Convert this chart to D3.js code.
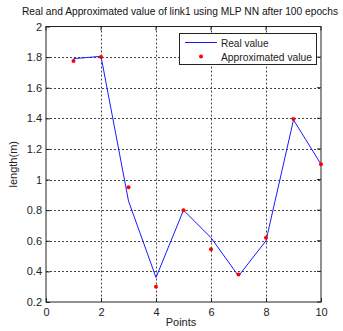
<!DOCTYPE html>
<html>
<head>
<meta charset="utf-8">
<script src="https://cdn.jsdelivr.net/npm/d3@7"></script>
<style>
  body { margin: 0; background: #fff; }
  svg { display: block; font-family: "Liberation Sans", Arial, sans-serif; }
</style>
</head>
<body>
<svg id="chart" width="343" height="331"></svg>
<script>
// Link length per sample point: measured vs. network output
const points = [1, 2, 3, 4, 5, 6, 7, 8, 9, 10];
const realValues = [1.79, 1.805, 0.86, 0.36, 0.80, 0.62, 0.37, 0.60, 1.39, 1.10];
const approxValues = [1.775, 1.80, 0.95, 0.30, 0.80, 0.545, 0.38, 0.62, 1.395, 1.10];
const xTicks = [0, 2, 4, 6, 8, 10];
const yTicks = [0.2, 0.4, 0.6, 0.8, 1, 1.2, 1.4, 1.6, 1.8, 2];

const svg = d3.select("#chart");
const m = { left: 46, right: 22, top: 26.5, bottom: 29 };
const W = 343, H = 331;
const x = d3.scaleLinear().domain([0, 10]).range([m.left, W - m.right]);
const y = d3.scaleLinear().domain([0.2, 2]).range([H - m.bottom, m.top]);

// grid
const grid = svg.append("g").attr("stroke", "#444").attr("stroke-width", 1)
  .attr("stroke-dasharray", "2,2");
xTicks.slice(1, -1).forEach(t => grid.append("line")
  .attr("x1", Math.round(x(t)) + 0.5).attr("x2", Math.round(x(t)) + 0.5)
  .attr("y1", y(2)).attr("y2", y(0.2)));
yTicks.slice(1, -1).forEach(t => grid.append("line")
  .attr("y1", Math.round(y(t)) + 0.5).attr("y2", Math.round(y(t)) + 0.5)
  .attr("x1", x(0)).attr("x2", x(10)));

// axes
const xAxis = d3.axisBottom(x).tickValues(xTicks).tickFormat(d3.format("d"))
  .tickSizeInner(-4).tickSizeOuter(0).tickPadding(6);
const yAxis = d3.axisLeft(y).tickValues(yTicks).tickFormat(d => String(d))
  .tickSizeInner(-4).tickSizeOuter(0).tickPadding(4);
const gx = svg.append("g").attr("transform", `translate(0,${y(0.2)})`).call(xAxis);
const gy = svg.append("g").attr("transform", `translate(${x(0)},0)`).call(yAxis);
[gx, gy].forEach(g => {
  g.select(".domain").remove();
  g.selectAll("text").attr("font-size", 11).attr("fill", "#222")
    .attr("font-family", "Liberation Sans, Arial, sans-serif");
  g.selectAll("line").attr("stroke", "#222");
});

// top and right ticks
const tk = svg.append("g").attr("stroke", "#222");
xTicks.forEach(t => tk.append("line").attr("x1", x(t)).attr("x2", x(t))
  .attr("y1", y(2)).attr("y2", y(2) + 4));
yTicks.forEach(t => tk.append("line").attr("y1", y(t)).attr("y2", y(t))
  .attr("x1", x(10)).attr("x2", x(10) - 4));

// frame
svg.append("rect").attr("x", x(0)).attr("y", y(2))
  .attr("width", x(10) - x(0)).attr("height", y(0.2) - y(2))
  .attr("fill", "none").attr("stroke", "#222").attr("stroke-width", 1);

// real value line
const line = d3.line().x((d, i) => x(points[i])).y(d => y(d));
svg.append("path").datum(realValues).attr("d", line)
  .attr("fill", "none").attr("stroke", "#1a1aff").attr("stroke-width", 1);

// approximated markers
svg.append("g").selectAll("circle").data(approxValues).join("circle")
  .attr("cx", (d, i) => x(points[i])).attr("cy", d => y(d))
  .attr("r", 2).attr("fill", "#ff0000");

// title and labels
svg.append("text").attr("x", 22).attr("y", 15)
  .attr("font-size", 10).attr("fill", "#111")
  .attr("textLength", 316).attr("lengthAdjust", "spacingAndGlyphs")
  .text("Real and Approximated value of link1 using MLP NN after 100 epochs");
svg.append("text").attr("x", 181).attr("y", 326).attr("text-anchor", "middle")
  .attr("font-size", 11).attr("fill", "#222").text("Points");
svg.append("text").attr("transform", `translate(17,${y(1.1)}) rotate(-90)`)
  .attr("text-anchor", "middle").attr("font-size", 11).attr("fill", "#222")
  .text("length(m)");

// legend
const lg = svg.append("g");
lg.append("rect").attr("x", 179.5).attr("y", 33.5).attr("width", 137).attr("height", 31)
  .attr("fill", "#fff").attr("stroke", "#222");
lg.append("line").attr("x1", 185).attr("x2", 217).attr("y1", 42.5).attr("y2", 42.5)
  .attr("stroke", "#1a1aff");
lg.append("text").attr("x", 221).attr("y", 46.5).attr("font-size", 11).attr("fill", "#222")
  .attr("textLength", 47.5).attr("lengthAdjust", "spacingAndGlyphs")
  .text("Real value");
lg.append("circle").attr("cx", 201).attr("cy", 56.5).attr("r", 2).attr("fill", "#ff0000");
lg.append("text").attr("x", 221).attr("y", 60.5).attr("font-size", 11).attr("fill", "#222")
  .attr("textLength", 91).attr("lengthAdjust", "spacingAndGlyphs")
  .text("Approximated value");
</script>
</body>
</html>
